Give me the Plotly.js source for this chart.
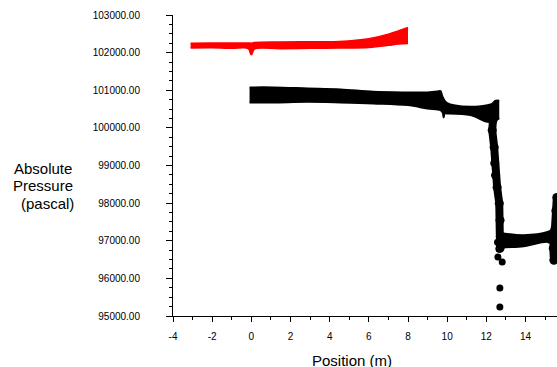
<!DOCTYPE html>
<html>
<head>
<meta charset="utf-8">
<script src="https://cdn.plot.ly/plotly-3.0.1.min.js"></script>
<style>
html, body { margin: 0; padding: 0; overflow: hidden; background: #fff; width: 557px; height: 367px; }
#chart { width: 650px; height: 367px; }
</style>
</head>
<body>
<div id="chart"></div>
<script>
// Red series (upper / lower edge of the dense point band)
const redX      = [-3.1, -2, -1, -0.15, 0, 0.15, 1.5, 3, 4.5, 6, 7, 7.5, 8];
const redUpper  = [102240, 102246, 102250, 102250, 102245, 102260, 102275, 102285, 102290, 102360, 102480, 102570, 102660];
const redLower  = [102130, 102135, 102120, 102110, 101950, 102100, 102110, 102120, 102130, 102145, 102200, 102235, 102250];

// Black series, upper plateau band
const blkTopX   = [-0.09, 1.13, 2.87, 4.56, 6.24, 7.98, 8.99, 9.5, 9.66, 9.75, 9.97, 11.19, 12.06, 12.3, 12.45, 12.66];
const blkTop    = [101075, 101075, 101049, 101022, 100958, 100942, 100942, 100964, 100977, 100844, 100666, 100559, 100605, 100640, 100719, 100724];
const blkBotX   = [-0.09, 1.13, 2.87, 4.56, 6.24, 7.98, 8.99, 9.66, 9.78, 9.82, 9.87, 9.97, 11.19, 12.06, 12.4, 12.66];
const blkBot    = [100676, 100676, 100692, 100676, 100650, 100605, 100517, 100472, 100400, 100277, 100384, 100384, 100339, 100160, 100180, 100259];

// Black series, steep drop
const dropX     = [12.34, 12.30, 12.40, 12.43, 12.47, 12.55, 12.66, 12.70, 12.72, 12.70];
const dropY     = [100206, 99940, 99487, 99062, 98743, 98423, 97998, 97546, 97120, 96800];

// Black series, lower plateau band
const lowX      = [12.72, 12.88, 13.9, 15.13, 15.35];
const lowTop    = [97200, 97192, 97147, 97234, 97300];
const lowBot    = [96800, 96819, 96854, 96968, 96900];

// Black series, rise at right edge
const riseX     = [15.45, 15.42, 15.5, 15.55, 15.6];
const riseY     = [96480, 96800, 97300, 97800, 98150];

// Isolated points
const dotX      = [12.81, 12.69, 12.69, 12.59, 12.65, 12.57, 15.54, 15.43];
const dotY      = [96436, 95745, 95239, 96569, 96774, 96960, 96527, 96748];

// Tick labels
const xTickVals = [-4, -2, 0, 2, 4, 6, 8, 10, 12, 14, 16, 18, 20];
const xTickText = ['-4', '-2', '0', '2', '4', '6', '8', '10', '12', '14', '16', '18', '20'];

const xTitle = 'Position (m)';
const yTitleLines = ['Absolute', 'Pressure', '(pascal)'];

const RED = '#ff0000', BLK = '#000000';

function band(x1, y1, x2, y2, color) {
  return [
    {x: x1, y: y1, type: 'scatter', mode: 'lines', line: {color: color, width: 2, shape: 'spline'}, hoverinfo: 'skip', showlegend: false},
    {x: x2, y: y2, type: 'scatter', mode: 'lines', fill: 'tonexty', fillcolor: color, line: {color: color, width: 2, shape: 'spline'}, hoverinfo: 'skip', showlegend: false}
  ];
}

const traces = [].concat(
  band(redX, redUpper, redX, redLower, RED),
  band(blkTopX, blkTop, blkBotX, blkBot, BLK),
  band(lowX, lowTop, lowX, lowBot, BLK),
  [
    {x: dropX, y: dropY, type: 'scatter', mode: 'lines+markers', line: {color: BLK, width: 8}, marker: {color: BLK, size: 9}, showlegend: false},
    {x: riseX, y: riseY, type: 'scatter', mode: 'lines+markers', line: {color: BLK, width: 8}, marker: {color: BLK, size: 9}, showlegend: false},
    {x: dotX, y: dotY, type: 'scatter', mode: 'markers', marker: {color: BLK, size: 7}, showlegend: false}
  ]
);

const fontFam = 'Arial, "Liberation Sans", Helvetica, sans-serif';
const yTitleY = [0.491, 0.433, 0.375];
const yTitleX = [-0.343, -0.345, -0.328];
const annotations = yTitleLines.map((t, i) => ({
  text: t, xref: 'paper', yref: 'paper', x: yTitleX[i], y: yTitleY[i],
  xanchor: 'left', yanchor: 'middle', showarrow: false,
  font: {family: fontFam, size: 15, color: '#000'}
}));
annotations.push({
  text: xTitle, xref: 'paper', yref: 'paper', x: 0.38, y: -0.147,
  xanchor: 'center', yanchor: 'middle', showarrow: false,
  font: {family: fontFam, size: 15, color: '#000'}
});

const layout = {
  width: 650, height: 367,
  margin: {l: 173, r: 7, t: 15, b: 51},
  paper_bgcolor: '#fff', plot_bgcolor: '#fff',
  showlegend: false,
  font: {family: fontFam, size: 10, color: '#000'},
  xaxis: {
    range: [-4, 20], tickmode: 'array', tickvals: xTickVals, ticktext: xTickText,
    showgrid: false, zeroline: false, showline: true, linecolor: '#000', linewidth: 1,
    ticks: 'outside', ticklen: 5, tickcolor: '#000',
    minor: {dtick: 1, tick0: 0, ticks: 'outside', ticklen: 3, tickcolor: '#000', showgrid: false},
    tickfont: {family: fontFam, size: 10, color: '#000'},
    ticklabelstandoff: 6
  },
  yaxis: {
    range: [95000, 103000], dtick: 1000, tick0: 95000,
    showgrid: false, zeroline: false, showline: true, linecolor: '#000', linewidth: 1,
    ticks: 'outside', ticklen: 6, tickcolor: '#000',
    minor: {dtick: 250, ticks: 'outside', ticklen: 3, tickcolor: '#000', showgrid: false},
    tickformat: '.2f',
    tickfont: {family: fontFam, size: 10, color: '#000'},
    ticklabelstandoff: 24
  },
  annotations: annotations
};

Plotly.newPlot('chart', traces, layout, {displayModeBar: false, staticPlot: true});
</script>
</body>
</html>
